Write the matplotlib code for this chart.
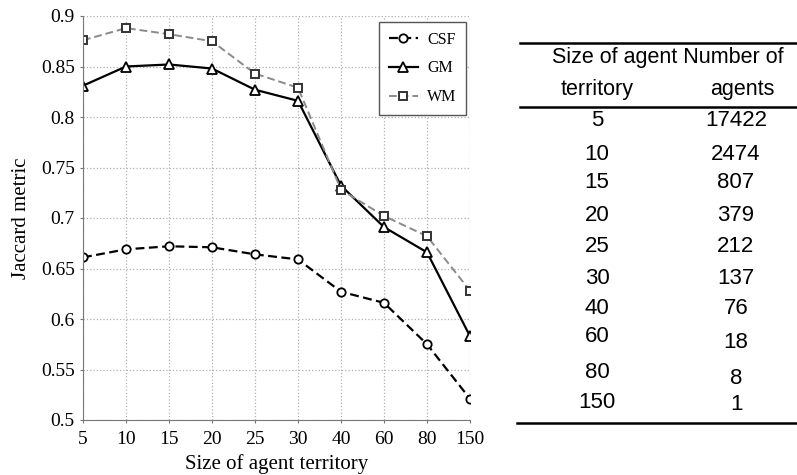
import matplotlib
matplotlib.use("Agg")
import matplotlib.pyplot as plt
import numpy as np

plt.rcParams["font.family"] = ["Liberation Serif", "DejaVu Serif"]

# data
sizes = ["5", "10", "15", "20", "25", "30", "40", "60", "80", "150"]
csf = [0.661, 0.669, 0.672, 0.671, 0.664, 0.659, 0.627, 0.616, 0.575, 0.521]
gm = [0.831, 0.850, 0.852, 0.848, 0.827, 0.816, 0.732, 0.691, 0.666, 0.583]
wm = [0.876, 0.888, 0.882, 0.875, 0.843, 0.829, 0.728, 0.702, 0.682, 0.628]
n_agents = ["17422", "2474", "807", "379", "212", "137", "76", "18", "8", "1"]

fig = plt.figure(figsize=(7.97, 4.75), dpi=100)
ax = fig.add_axes([83 / 797, 1 - 420 / 475, 387 / 797, 404 / 475])

x = np.arange(len(sizes))
ax.plot(x, csf, color="black", ls=(0, (4, 2)), lw=1.6, marker="o", ms=6,
        mfc="white", mec="black", mew=1.3, label="CSF")
ax.plot(x, gm, color="black", ls="-", lw=1.6, marker="^", ms=7,
        mfc="white", mec="black", mew=1.3, label="GM")
ax.plot(x, wm, color="#8a8a8a", ls=(0, (4, 2)), lw=1.4, marker="s", ms=6,
        mfc="white", mec="#333333", mew=1.4, label="WM")

ax.set_xlim(0, len(sizes) - 1)
ax.set_ylim(0.5, 0.9)
ax.set_xticks(x)
ax.set_xticklabels(sizes)
ax.set_yticks(np.arange(0.5, 0.901, 0.05))
ax.set_yticklabels(["0.5", "0.55", "0.6", "0.65", "0.7", "0.75", "0.8", "0.85", "0.9"])
ax.tick_params(labelsize=14, length=2, color="#777777", direction="out")
ax.tick_params(axis="x", pad=6)
ax.tick_params(axis="y", pad=4)
ax.grid(True, ls=":", color="#b0b0b0", lw=0.9)
for s in ["top", "right"]:
    ax.spines[s].set_visible(False)
for s in ["left", "bottom"]:
    ax.spines[s].set_color("#777777")
ax.set_xlabel("Size of agent territory", fontsize=15, labelpad=4)
ax.set_ylabel("Jaccard metric", fontsize=15, labelpad=7)

leg = ax.legend(loc="upper right", fontsize=11.5, handlelength=1.8,
                fancybox=False, edgecolor="#555555", framealpha=1,
                borderpad=0.6, labelspacing=0.8, handletextpad=0.6,
                borderaxespad=0, bbox_to_anchor=(0.99, 0.985))
leg.get_frame().set_linewidth(1.0)

# table on the right
def fx(px):
    return px / 797

def fy(py):
    return 1 - py / 475

hfont = dict(family=["Liberation Sans", "DejaVu Sans"], fontsize=15.5,
             ha="center", va="center")
tfont = dict(family=["Liberation Sans", "DejaVu Sans"], fontsize=16,
             ha="center", va="center")
fig.add_artist(plt.Line2D([fx(520), fx(797)], [fy(43), fy(43)], color="black", lw=1.8))
fig.add_artist(plt.Line2D([fx(520), fx(797)], [fy(107), fy(107)], color="black", lw=1.8))
fig.add_artist(plt.Line2D([fx(517), fx(797)], [fy(423), fy(423)], color="black", lw=1.8))
fig.text(fx(668), fy(58), "Size of agent Number of", **hfont)
fig.text(fx(597), fy(90), "territory", **hfont)
fig.text(fx(742), fy(90), "agents", **hfont)

row_y1 = [121, 154, 183, 215, 247, 279, 309, 337, 373, 403]
row_y2 = [121, 154, 183, 215, 247, 279, 309, 343, 378, 405]
for s, n, y1, y2 in zip(sizes, n_agents, row_y1, row_y2):
    fig.text(fx(597), fy(y1), s, **tfont)
    fig.text(fx(736), fy(y2), n, **tfont)

fig.savefig("out.png", dpi=100)
